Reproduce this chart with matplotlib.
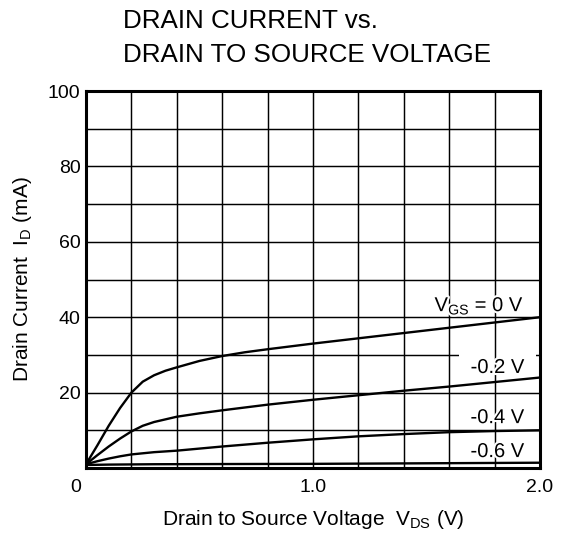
import matplotlib
matplotlib.use('Agg')
import numpy as np
import matplotlib.pyplot as plt
import matplotlib.patheffects as pe
from matplotlib.transforms import ScaledTranslation

plt.rcParams['font.family'] = ['Liberation Sans', 'DejaVu Sans']

# ---- data ----
vds_0 = [0.0, 0.05, 0.1, 0.15, 0.2, 0.25, 0.3, 0.35, 0.4, 0.5, 0.6, 0.7, 0.8, 1.0, 1.2, 1.4, 1.6, 1.8, 2.0]
id_0 = [1.0, 6.0, 11.2, 15.9, 20.0, 22.9, 24.6, 25.8, 26.7, 28.4, 29.7, 30.7, 31.5, 33.0, 34.4, 35.8, 37.2, 38.6, 40.0]

vds_02 = [0.0, 0.05, 0.1, 0.15, 0.2, 0.25, 0.3, 0.4, 0.5, 0.6, 0.8, 1.0, 1.2, 1.4, 1.6, 1.8, 2.0]
id_02 = [1.0, 3.4, 5.7, 7.8, 9.7, 11.2, 12.2, 13.6, 14.5, 15.3, 16.8, 18.1, 19.3, 20.5, 21.6, 22.8, 24.0]

vds_04 = [0.0, 0.05, 0.1, 0.15, 0.2, 0.3, 0.4, 0.6, 0.8, 1.0, 1.2, 1.4, 1.6, 1.8, 2.0]
id_04 = [1.0, 1.8, 2.5, 3.1, 3.6, 4.2, 4.6, 5.7, 6.7, 7.6, 8.4, 9.0, 9.5, 9.8, 10.0]

vds_06 = [0.0, 0.1, 0.3, 0.6, 1.0, 1.5, 2.0]
id_06 = [0.8, 0.9, 1.0, 1.05, 1.1, 1.25, 1.4]

curve_labels = ['V$_\\mathregular{GS}$ = 0 V', '-0.2 V', '-0.4 V', '-0.6 V']
label_y = [41.6, 25.2, 11.9, 2.9]   # label baselines (mA)
label_x = 1.93                      # right edge of labels (V)

x_major = [0.0, 1.0, 2.0]
x_major_labels = ['0', '1.0', '2.0']
y_major = [20, 40, 60, 80, 100]
y_major_labels = ['20', '40', '60', '80', '100']

# ---- figure ----
fig = plt.figure(figsize=(5.66, 5.46), dpi=100)
ax = fig.add_axes([86 / 566, 1 - 468 / 546, 454 / 566, 377 / 546])

for v, i in [(vds_0, id_0), (vds_02, id_02), (vds_04, id_04), (vds_06, id_06)]:
    ax.plot(v, i, color='black', lw=1.7, zorder=2.6, solid_joinstyle='round')

ax.set_xlim(0, 2.0)
ax.set_ylim(0, 100)
ax.set_xticks(x_major)
ax.set_xticklabels(x_major_labels)
ax.set_xticks(np.arange(0, 2.001, 0.2), minor=True)
ax.set_yticks(y_major)
ax.set_yticklabels(y_major_labels)
ax.set_yticks(np.arange(0, 100.1, 10), minor=True)

ax.grid(True, which='both', color='black', lw=1.05)
ax.xaxis.set_zorder(1.5)   # vertical grid lines
ax.yaxis.set_zorder(0.5)   # horizontal grid lines

ax.tick_params(axis='both', which='both', length=0)
ax.tick_params(axis='x', labelsize=14, pad=8)
ax.tick_params(axis='y', labelsize=14, pad=4)

for s in ax.spines.values():
    s.set_linewidth(2.2)
    s.set_zorder(3)

# shift the "0" x tick label to the left as in the reference
lbl0 = ax.get_xticklabels()[0]
lbl0.set_transform(lbl0.get_transform() + ScaledTranslation(-10.5 / 100, 0, fig.dpi_scale_trans))

# curve labels
for k, (txt, yy) in enumerate(zip(curve_labels, label_y)):
    if k == 1:
        ax.text(label_x, yy, txt, fontsize=14.5, ha='right', va='baseline', color='none',
                bbox=dict(boxstyle='square,pad=0.6', fc='white', ec='none'), zorder=1.0)
    ax.text(label_x, yy, txt, fontsize=14.5, ha='right', va='baseline', color='black', zorder=3.5,
            path_effects=[pe.withStroke(linewidth=3, foreground='white')])

ax.set_xlabel('Drain to Source Voltage  V$_\\mathregular{DS}$ (V)', fontsize=15)
ax.xaxis.set_label_coords(0.5, -0.107)
ax.set_ylabel('Drain Current  I$_\\mathregular{D}$ (mA)', fontsize=15)
ax.yaxis.set_label_coords(-0.115, 0.5)

fig.text(123 / 566, 1 - 28.3 / 546, 'DRAIN CURRENT vs.', fontsize=18.7, ha='left', va='baseline')
fig.text(123 / 566, 1 - 61.7 / 546, 'DRAIN TO SOURCE VOLTAGE', fontsize=18.7, ha='left', va='baseline')

fig.savefig('out.png', dpi=100)
